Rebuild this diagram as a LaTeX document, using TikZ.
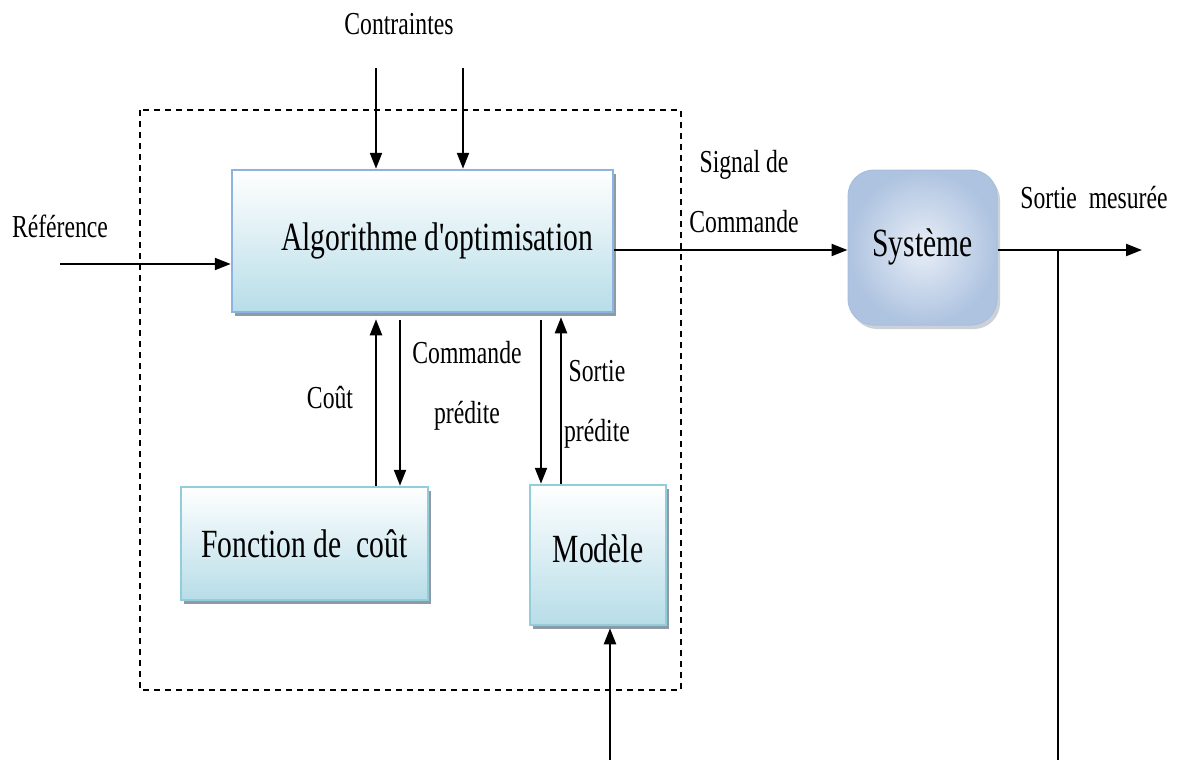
\documentclass[tikz,border=0pt]{standalone}
\usepackage{fontspec}
\setmainfont{Liberation Serif}[FakeStretch=0.74]
% same face without the TeX quote mapping, for a straight apostrophe
\newfontfamily\plainserif{Liberation Serif}[FakeStretch=0.74]
\usetikzlibrary{arrows.meta,shadows}

\definecolor{algoedge}{HTML}{8DB3E2}
\definecolor{algofill}{HTML}{B7DDE8}
\definecolor{boxedge}{HTML}{92CDDC}
\definecolor{shadowc}{HTML}{8E9AA6}
\definecolor{sysin}{HTML}{E8EEF7}
\definecolor{sysout}{HTML}{AEC3E0}
\definecolor{sysedge}{HTML}{A8BEDD}

\tikzset{
  blockbox/.style={rectangle, line width=2.5pt, top color=white, bottom color=algofill,
    drop shadow={shadow xshift=3pt, shadow yshift=-4pt, fill=shadowc, opacity=1},
    font=\fontsize{40}{44}\selectfont, inner sep=0pt},
  sysbox/.style={rectangle, rounded corners=26pt, draw=sysedge, line width=1pt,
    inner color=sysin, outer color=sysout,
    drop shadow={shadow xshift=3pt, shadow yshift=-4pt, fill=shadowc, opacity=0.45},
    font=\fontsize{40}{44}\selectfont, inner sep=0pt},
  lbl/.style={font=\fontsize{32}{60}\selectfont, align=center, inner sep=0pt},
  arr/.style={line width=2.3pt, -{Triangle[length=16pt,width=12pt]}},
  wire/.style={line width=2.3pt},
  frame/.style={line width=1.3pt, dash pattern=on 6pt off 5pt}
}

\begin{document}
\begin{tikzpicture}[x=1pt, y=-1pt]
\useasboundingbox (0,0) rectangle (1178,760);

% dashed outline of the predictive controller
\draw[frame] (140,110) rectangle (681,690);

% blocks
\node[blockbox, draw=algoedge, minimum width=381pt, minimum height=142pt] (algo) at (422.5,241)
  {\hspace*{29pt}\raisebox{9pt}{Algorithme d{\plainserif '}optimisation}};
\node[blockbox, draw=boxedge, minimum width=247pt, minimum height=113pt] (cost) at (304.5,543.5)
  {Fonction de\ \ coût};
\node[blockbox, draw=boxedge, minimum width=136pt, minimum height=140pt] (model) at (598,555)
  {\raisebox{12pt}{Modèle}};
\node[sysbox, minimum width=149pt, minimum height=155pt] (sys) at (922.5,247.5)
  {\raisebox{10pt}{Système}};

% labels
\node[lbl] (lcon) at (399,24) {Contraintes};
\node[lbl] (lref) at (60,226) {Référence};
\node[lbl] (lsig) at (744,192) {Signal de\\Commande};
\node[lbl] (lout) at (1094,198) {Sortie\ \ mesurée};
\node[lbl] (lcout) at (330,398) {Coût};
\node[lbl] (lcmd) at (467,386) {Commande\\prédite};
\node[lbl] (lsp) at (597,404) {Sortie\\prédite};

% free ends and guide points
\coordinate (c1) at (376,68);
\coordinate (c2) at (463,68);
\coordinate (refin) at (60,264);
\coordinate (sigy) at (0,250);
\coordinate (outend) at (1142,250);
\coordinate (fbtop) at (1058,250);
\coordinate (fbbot) at (1058,760);
\coordinate (modin) at (610,760);
\coordinate (x376) at (376,0);
\coordinate (x400) at (400,0);
\coordinate (x541) at (541,0);
\coordinate (x561) at (561,0);

% connectors
\draw[arr] (c1) -- (c1 |- algo.north);
\draw[arr] (c2) -- (c2 |- algo.north);
\draw[arr] (refin) -- (refin -| algo.west);
\draw[arr] (algo.east |- sigy) -- (sys.west |- sigy);
\draw[arr] (sys.east |- sigy) -- (outend);
\draw[wire] (fbtop) -- (fbbot);
\draw[arr, shorten >=2pt] (modin) -- (modin |- model.south);

\draw[arr, shorten >=6pt] (cost.north -| x376) -- (algo.south -| x376);
\draw[arr, shorten <=7pt] (algo.south -| x400) -- (cost.north -| x400);
\draw[arr, shorten <=7pt] (algo.south -| x541) -- (model.north -| x541);
\draw[arr, shorten >=4pt] (model.north -| x561) -- (algo.south -| x561);
\end{tikzpicture}
\end{document}
